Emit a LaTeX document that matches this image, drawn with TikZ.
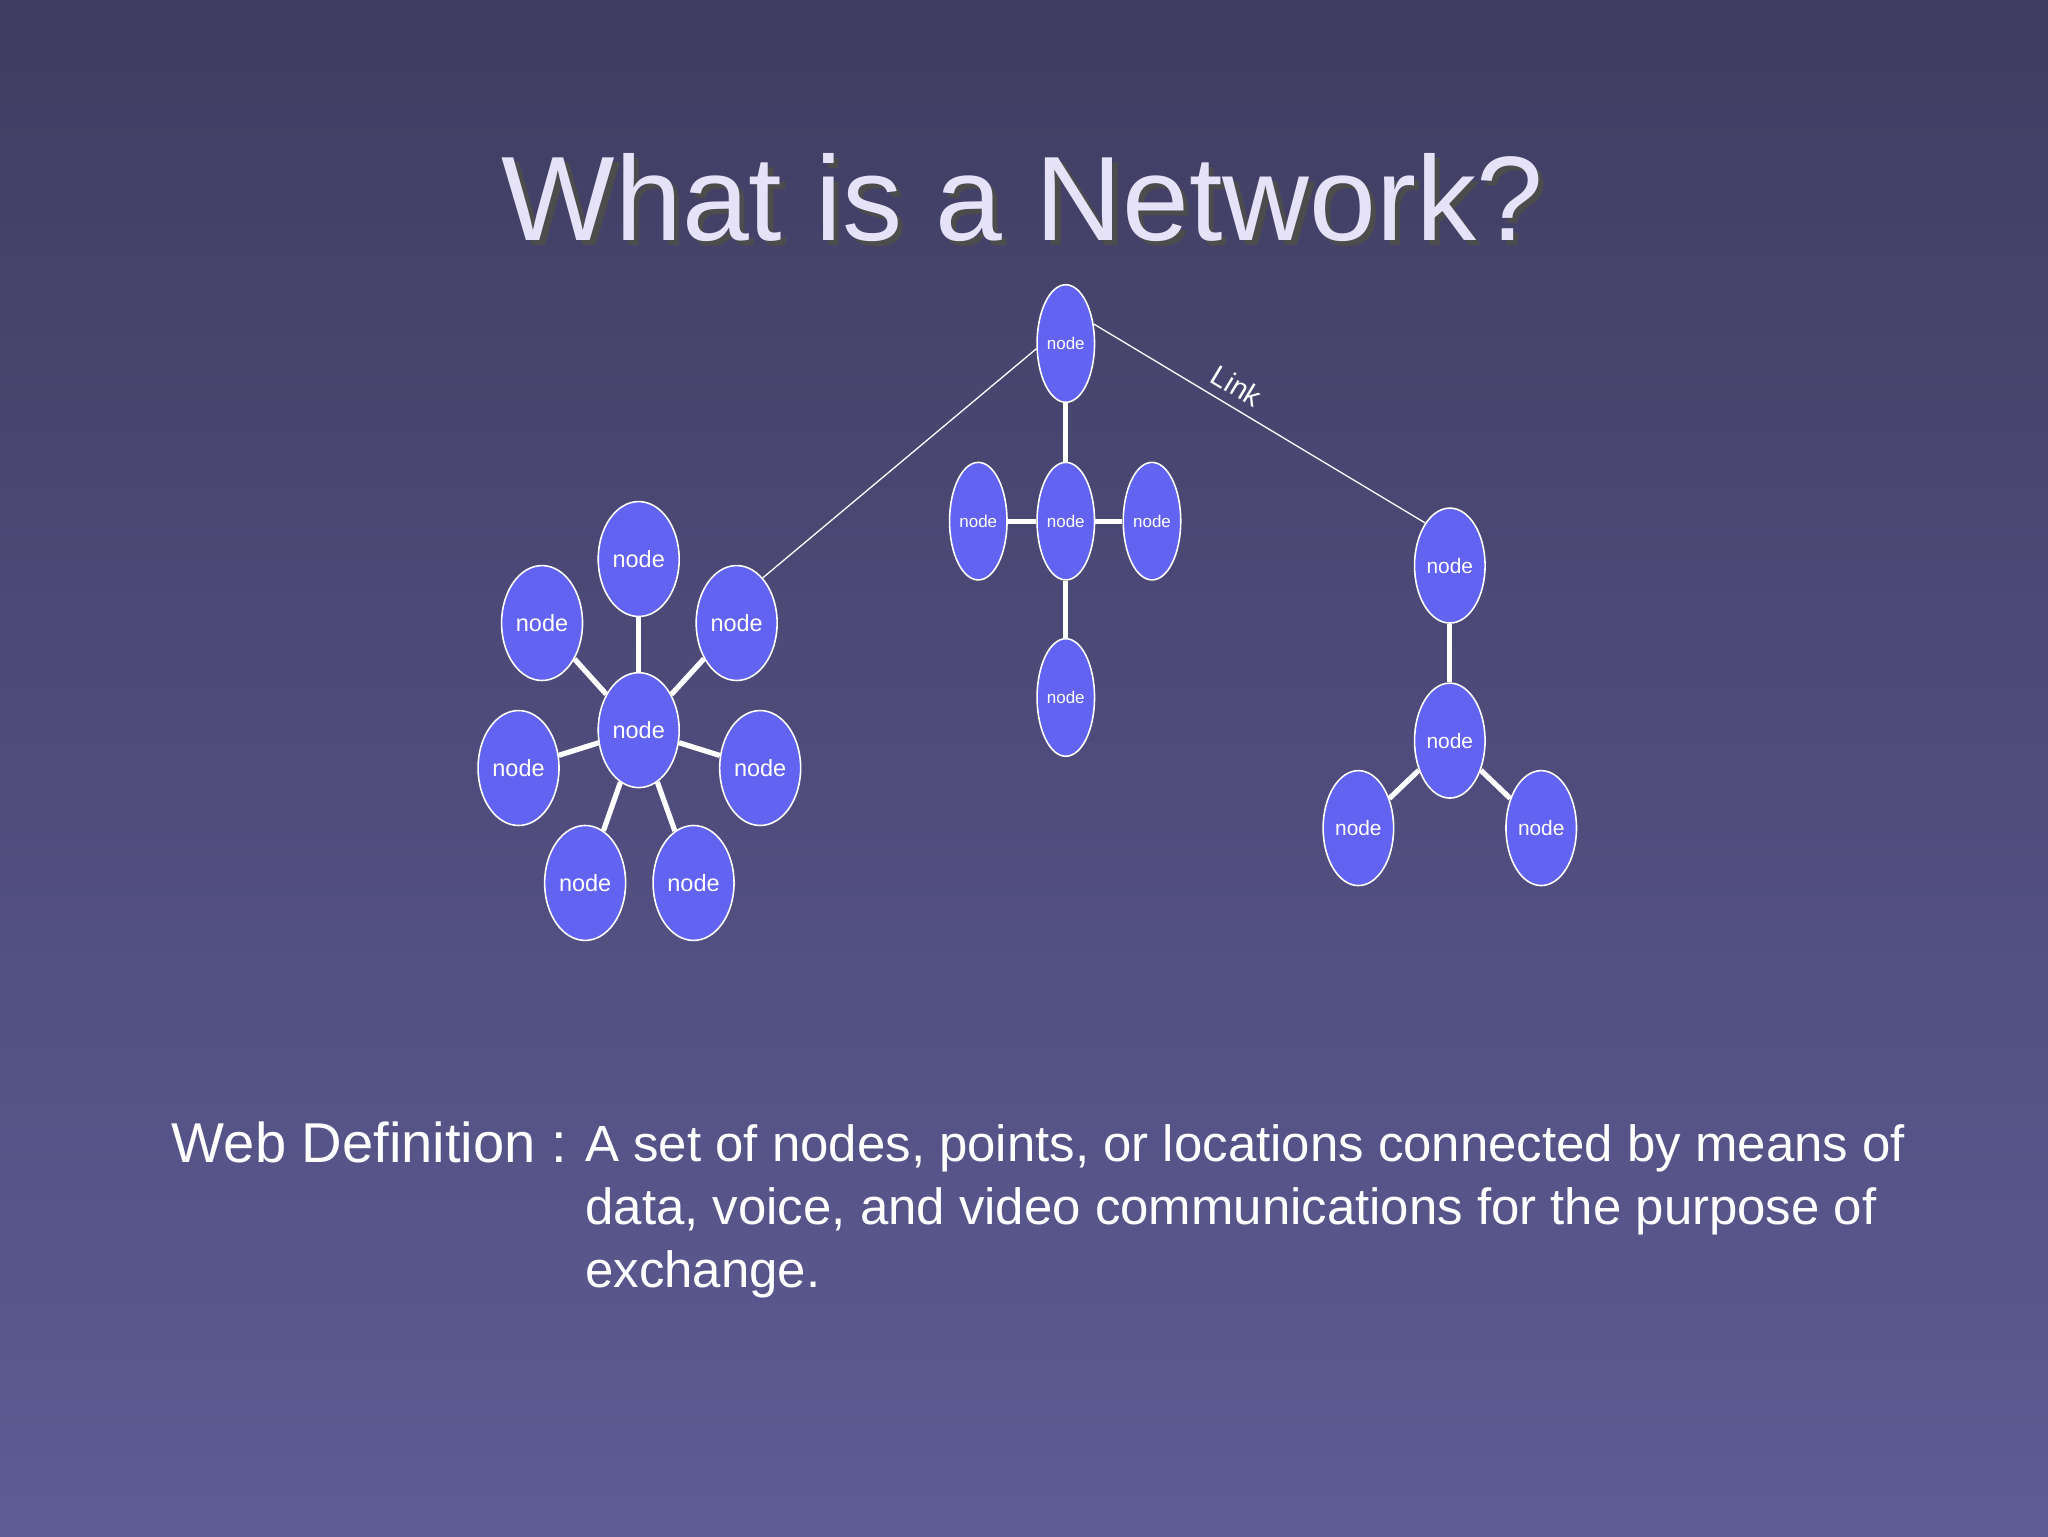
\documentclass[tikz,border=0pt]{standalone}
\usepackage{fontspec}
\setmainfont{Liberation Sans}
\usetikzlibrary{shapes.geometric}
\definecolor{bgtop}{HTML}{403D62}
\definecolor{bgbot}{HTML}{5E5B95}
\definecolor{nodefill}{HTML}{6363F2}
\definecolor{titlec}{HTML}{E6E2F8}
\tikzset{
  big/.style={ellipse,draw=white,line width=1.2pt,fill=nodefill,minimum width=62pt,minimum height=88pt,inner sep=0pt,text=white,font=\fontsize{18}{18}\selectfont},
  thin/.style={ellipse,draw=white,line width=1.2pt,fill=nodefill,minimum width=44pt,minimum height=90pt,inner sep=0pt,text=white,font=\fontsize{13}{13}\selectfont},
  mid/.style={ellipse,draw=white,line width=1.2pt,fill=nodefill,minimum width=54pt,minimum height=88pt,inner sep=0pt,text=white,font=\fontsize{16}{16}\selectfont},
  tie/.style={draw=white,line width=4pt},
  link/.style={draw=white,line width=1pt}
}
\begin{document}
\begin{tikzpicture}[x=1pt,y=-1pt]
\shade[top color=bgtop,bottom color=bgbot] (0,0) rectangle (1568,1176);
\useasboundingbox (0,0) rectangle (1568,1176);
% title
\node[text=black!70,font=\fontsize{92}{92}\selectfont] at (787,155) {What is a Network?};
\node[text=titlec,font=\fontsize{92}{92}\selectfont] (title) at (783,151) {What is a Network?};
% star cluster
\node[big] (sc) at (489,559) {node};
\node[big] (st) at (489,428) {node};
\node[big] (sul) at (415,477) {node};
\node[big] (sur) at (564,477) {node};
\node[big] (sl) at (397,588) {node};
\node[big] (sr) at (582,588) {node};
\node[big] (sbl) at (448,676) {node};
\node[big] (sbr) at (531,676) {node};
% middle tree
\node[thin] (mt) at (816,263) {node};
\node[thin] (mc) at (816,399) {node};
\node[thin] (ml) at (749,399) {node};
\node[thin] (mr) at (882,399) {node};
\node[thin] (mb) at (816,534) {node};
% right tree
\node[mid] (rt) at (1110,433) {node};
\node[mid] (rc) at (1110,567) {node};
\node[mid] (rl) at (1040,634) {node};
\node[mid] (rr) at (1180,634) {node};
\foreach \a/\b in {sc/st,sc/sul,sc/sur,sc/sl,sc/sr,sc/sbl,sc/sbr,mt/mc,mc/ml,mc/mr,mc/mb,rt/rc,rc/rl,rc/rr}{
  \draw[tie] (\a) -- (\b);
}
\draw[link] (mt.190) -- (sur.60);
\draw[link] (mt.35) -- (rt.120) node[pos=0.40,above,sloped,yshift=4pt,text=white,font=\fontsize{22}{22}\selectfont] (lk) {Link};
% bottom text
\node[anchor=base west,text=white,font=\fontsize{43}{43}\selectfont] (wd) at (128,890) {Web Definition :};
\node[anchor=north west,text=white,font=\fontsize{39}{48}\selectfont,align=left,inner sep=0pt] (def) at (448,861)
 {A set of nodes, points, or locations connected by means of\\data, voice, and video communications for the purpose of\\exchange.};
\end{tikzpicture}
\end{document}
